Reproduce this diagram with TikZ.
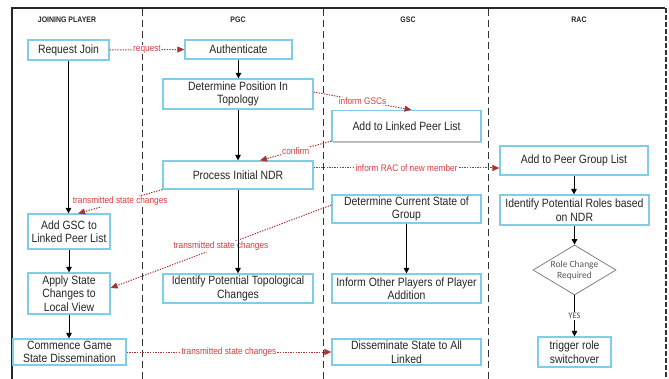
\documentclass[tikz,border=0pt]{standalone}
\usepackage{fontspec}
\setmainfont[FakeStretch=0.87]{Liberation Sans}
\newfontfamily\diafont{Carlito}
\usetikzlibrary{arrows.meta,shapes.geometric,shadows}
\definecolor{boxblue}{HTML}{7FCDEA}
\definecolor{txtgray}{HTML}{262626}
\definecolor{flowred}{HTML}{A83434}
\definecolor{lblred}{HTML}{DC3C3C}
\definecolor{lanegray}{HTML}{333333}
\tikzset{
  stepbox/.style={draw=boxblue, line width=1.2pt, fill=white, text=txtgray,
    align=center, inner sep=1pt,
    font=\fontsize{12}{13.5}\selectfont,
    drop shadow={shadow xshift=1.3pt, shadow yshift=-1.3pt, fill=black!40, opacity=0.6}},
  decide/.style={diamond, draw=black!55, line width=0.7pt, fill=white, text=black!65,
    align=center, inner sep=0pt, aspect=1.66,
    font=\diafont\fontsize{9.5}{11}\selectfont},
  lanehead/.style={font=\bfseries\fontsize{8}{9}\selectfont, text=txtgray},
  lane/.style={draw=lanegray, line width=1.3pt, dash pattern=on 7pt off 4pt},
  flow/.style={draw=black, line width=1pt, -{Triangle[length=5.5pt,width=5.5pt]}},
  msg/.style={draw=flowred, line width=1pt, dash pattern=on 1.3pt off 1.3pt,
    -{Triangle[length=7pt,width=6pt]}},
  msglabel/.style={fill=white, inner sep=0.6pt, text=lblred,
    font=\fontsize{9.5}{10}\selectfont},
  yeslabel/.style={fill=white, inner sep=1pt, text=black!70,
    font=\diafont\fontsize{8.5}{9}\selectfont}
}
\begin{document}
\begin{tikzpicture}[x=1pt,y=-1pt]
\useasboundingbox (0,0) rectangle (669,379);

% frame and swimlanes
\draw[line width=1.3pt, draw=black!85] (12,379) -- (12,8) -- (665,8);
\draw[draw=lanegray, line width=1.6pt, dash pattern=on 5pt off 2pt] (666,8) -- (666,379);
\draw[lane] (142.5,9) -- (142.5,379);
\draw[lane] (323.3,9) -- (323.3,379);
\draw[lane] (488.7,9) -- (488.7,379);

\node[lanehead] (hjp) at (67,20) {JOINING PLAYER};
\node[lanehead] (hpgc) at (238,20) {PGC};
\node[lanehead] (hgsc) at (408,20) {GSC};
\node[lanehead] (hrac) at (579,20) {RAC};

% joining player lane
\node[stepbox, minimum width=81pt, minimum height=20pt] (rj) at (68.5,50) {Request Join};
\node[stepbox, minimum width=82pt, minimum height=35pt] (addgsc) at (69,231.5) {Add GSC to\\Linked Peer List};
\node[stepbox, minimum width=82pt, minimum height=41pt] (apply) at (69,293.5) {Apply State\\Changes to\\Local View};
\node[stepbox, minimum width=113pt, minimum height=26pt] (commence) at (69.5,352) {Commence Game\\State Dissemination};

% PGC lane
\node[stepbox, minimum width=107pt, minimum height=19pt] (auth) at (238.5,49.5) {Authenticate};
\node[stepbox, minimum width=150pt, minimum height=30pt] (detpos) at (238,94) {Determine Position In\\Topology};
\node[stepbox, minimum width=150pt, minimum height=28pt] (ndr) at (238,175) {Process Initial NDR};
\node[stepbox, minimum width=150pt, minimum height=29pt] (idtopo) at (238,288.5) {Identify Potential Topological\\Changes};

% GSC lane
\node[stepbox, minimum width=149pt, minimum height=31pt] (addlinked) at (406.5,126) {Add to Linked Peer List};
\node[stepbox, minimum width=149pt, minimum height=28pt] (detcur) at (406.5,209) {Determine Current State of\\Group};
\node[stepbox, minimum width=149pt, minimum height=29pt] (inform) at (406.5,288.5) {Inform Other Players of Player\\Addition};
\node[stepbox, minimum width=149pt, minimum height=26pt] (dissem) at (406.5,352) {Disseminate State to All\\Linked};

% RAC lane
\node[stepbox, minimum width=148pt, minimum height=29pt] (addpeer) at (574,160.5) {Add to Peer Group List};
\node[stepbox, minimum width=149pt, minimum height=30pt] (idroles) at (574.5,210) {Identify Potential Roles based\\on NDR};
\node[decide, minimum width=83pt, minimum height=50pt] (dia) at (574.5,270) {Role Change\\Required};
\node[stepbox, minimum width=73pt, minimum height=30pt] (trig) at (574.5,352) {trigger role\\switchover};

% messages between components
\draw[msg] (rj.east) -- node[msglabel] {request} (auth.west);
\draw[msg] ([yshift=2pt]detpos.east) -- node[msglabel] {inform GSCs} ([xshift=5pt]addlinked.north);
\draw[msg] ([yshift=1pt]addlinked.south west) -- node[msglabel] {confirm} ([xshift=22pt]ndr.north);
\draw[msg] ([yshift=7pt]ndr.east) -- node[msglabel] {inform RAC of new member} ([yshift=7pt]ndr.east -| addpeer.west);
\draw[msg] (ndr.south west) -- node[msglabel] {transmitted state changes} ([xshift=9pt]addgsc.north);
\draw[msg] ([yshift=4pt]detcur.west) -- node[msglabel] {transmitted state changes} ([yshift=5.5pt]apply.east);
\draw[msg] (commence.east) -- node[msglabel] {transmitted state changes} (dissem.west);

% control flow within each component
\draw[flow] (rj.south) -- (rj.south |- addgsc.north);
\draw[flow] (addgsc.south) -- (apply.north);
\draw[flow] (apply.south) -- (apply.south |- commence.north);
\draw[flow] (auth.south) -- (auth.south |- detpos.north);
\draw[flow] (detpos.south) -- (ndr.north);
\draw[flow] (ndr.south) -- (idtopo.north);
\draw[flow] (detcur.south) -- (inform.north);
\draw[flow] (addpeer.south) -- (addpeer.south |- idroles.north);
\draw[flow] (idroles.south) -- (dia.north);
\draw[flow] (dia.south) -- node[yeslabel] {YES} (trig.north);
\end{tikzpicture}
\end{document}
